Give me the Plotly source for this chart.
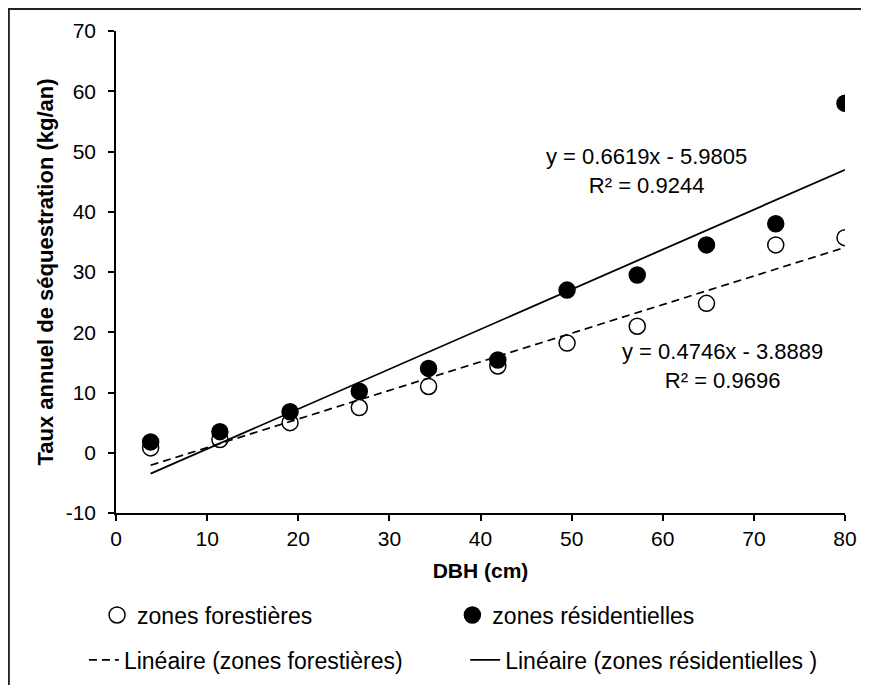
import plotly.graph_objects as go

# ---- data ----
dbh = [3.8, 11.4, 19.1, 26.7, 34.3, 41.9, 49.5, 57.2, 64.8, 72.4, 80.0]
forest = [0.8, 2.2, 5.0, 7.5, 11.0, 14.4, 18.2, 21.0, 24.8, 34.5, 35.7]
resid = [1.8, 3.5, 6.8, 10.2, 14.0, 15.4, 27.0, 29.5, 34.5, 38.0, 58.0]
forest_fit = (0.4746, -3.8889, 0.9696)
resid_fit = (0.6619, -5.9805, 0.9244)
x_ticks = [0, 10, 20, 30, 40, 50, 60, 70, 80]
x_tick_labels = ["0", "10", "20", "30", "40", "50", "60", "70", "80"]
y_ticks = [-10, 0, 10, 20, 30, 40, 50, 60, 70]
y_tick_labels = ["-10", "0", "10", "20", "30", "40", "50", "60", "70"]

FONT = "Liberation Sans, Arial, sans-serif"

def fit_line(coef):
    xs = [min(dbh), max(dbh)]
    return xs, [coef[0] * v + coef[1] for v in xs]

def eq_text(coef):
    sign = "-" if coef[1] < 0 else "+"
    return f"y = {coef[0]:.4f}x {sign} {abs(coef[1]):.4f}<br>R² = {coef[2]:.4f}"

fig = go.Figure()
fig.add_trace(go.Scatter(x=dbh, y=forest, mode="markers", name="zones forestières",
                         marker=dict(symbol="circle", size=16, color="white",
                                     line=dict(color="black", width=1.5)),
                         legend="legend"))
fig.add_trace(go.Scatter(x=dbh, y=resid, mode="markers", name="zones résidentielles",
                         marker=dict(symbol="circle", size=16, color="black",
                                     line=dict(color="black", width=1.5)),
                         legend="legend2"))
fx, fy = fit_line(forest_fit)
fig.add_trace(go.Scatter(x=fx, y=fy, mode="lines", name="Linéaire (zones forestières)",
                         line=dict(color="black", width=1.7, dash="8px,5px"),
                         legend="legend3"))
rx, ry = fit_line(resid_fit)
fig.add_trace(go.Scatter(x=rx, y=ry, mode="lines", name="Linéaire (zones résidentielles )",
                         line=dict(color="black", width=1.8),
                         legend="legend4"))

fig.add_annotation(x=58.2, y=46.8, xref="x", yref="y", text=eq_text(resid_fit),
                   showarrow=False, font=dict(family=FONT, size=22, color="black"))
fig.add_annotation(x=66.6, y=14.4, xref="x", yref="y", text=eq_text(forest_fit),
                   showarrow=False, font=dict(family=FONT, size=22, color="black"))

# outer frame (clipped on right and bottom like the reference)
fig.add_shape(type="rect", xref="paper", yref="paper", x0=-0.147, x1=1.5, y0=-1.5, y1=1.0456,
              line=dict(color="#222", width=2), fillcolor="rgba(0,0,0,0)")

leg_font = dict(family=FONT, size=23, color="black")
common = dict(font=leg_font, bgcolor="rgba(0,0,0,0)", xanchor="left", yanchor="middle",
              orientation="v")
fig.update_layout(
    width=869, height=685,
    margin=dict(l=108, r=32, t=23, b=180),
    paper_bgcolor="white", plot_bgcolor="white",
    font=dict(family=FONT, size=21, color="black"),
    showlegend=True,
    legend=dict(x=-0.026, y=-0.2116, **common),
    legend2=dict(x=0.4614, y=-0.2116, **common),
    legend3=dict(x=-0.044, y=-0.305, **common),
    legend4=dict(x=0.479, y=-0.305, **common),
    xaxis=dict(range=[0, 80], tickvals=x_ticks, ticktext=x_tick_labels,
               showgrid=False, zeroline=False,
               showline=True, linecolor="black", linewidth=1.5, ticks="outside",
               ticklen=6, tickcolor="black", tickwidth=1.5,
               tickfont=dict(family=FONT, size=21),
               title=dict(text="<b>DBH (cm)</b>", font=dict(family=FONT, size=21), standoff=14)),
    yaxis=dict(range=[-10, 70], tickvals=y_ticks, ticktext=y_tick_labels,
               showgrid=False, zeroline=False,
               showline=True, linecolor="black", linewidth=1.5, ticks="outside",
               ticklen=6, tickcolor="black", tickwidth=1.5, ticklabelstandoff=8,
               tickfont=dict(family=FONT, size=21),
               title=dict(text="<b>Taux annuel de séquestration (kg/an)</b>",
                          font=dict(family=FONT, size=22), standoff=6)),
)

fig.write_html("out.html")
